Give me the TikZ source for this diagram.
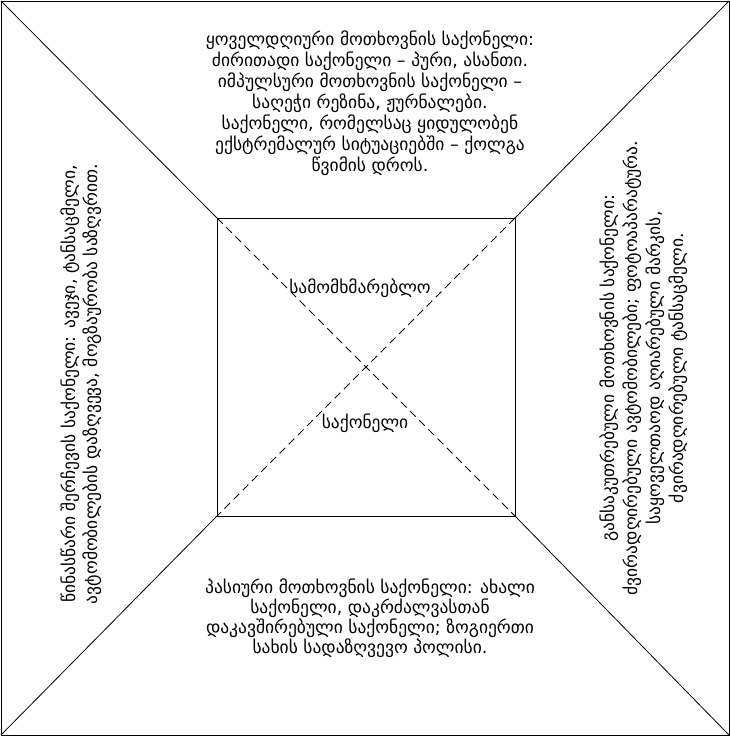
\documentclass[tikz,border=0pt]{standalone}
\usepackage{fontspec}
\setmainfont{DejaVu Sans}
\begin{document}
\begin{tikzpicture}[x=1pt,y=-1pt,line width=0.8pt,
  txt/.style={align=center,inner sep=0pt,font=\fontsize{17.5}{21}\selectfont},
  sidetxt/.style={txt,rotate=90},
  dashline/.style={dash pattern=on 8pt off 5pt}]
\useasboundingbox (0,0) rectangle (730,736);
\coordinate (O1) at (1,1);
\coordinate (O2) at (729,1);
\coordinate (O3) at (729,735);
\coordinate (O4) at (1,735);
\coordinate (I1) at (217,218);
\coordinate (I2) at (515,218);
\coordinate (I3) at (515,516);
\coordinate (I4) at (217,516);
\draw (O1) rectangle (O3);
\draw (I1) rectangle (I3);
\draw (O1) -- (I1);
\draw (O2) -- (I2);
\draw (O3) -- (I3);
\draw (O4) -- (I4);
\draw[dashline] (I1) -- (I3);
\draw[dashline] (I2) -- (I4);
\node[txt] (top) at (370,103) {ყოველდღიური მოთხოვნის საქონელი:\\
ძირითადი საქონელი – პური, ასანთი.\\
იმპულსური მოთხოვნის საქონელი –\\
საღეჭი რეზინა, ჟურნალები.\\
საქონელი, რომელსაც ყიდულობენ\\
ექსტრემალურ სიტუაციებში – ქოლგა\\
წვიმის დროს.};
\node[txt,font=\fontsize{17.5}{20}\selectfont] (bottom) at (370,618) {პასიური მოთხოვნის საქონელი: ახალი\\
საქონელი, დაკრძალვასთან\\
დაკავშირებული საქონელი; ზოგიერთი\\
სახის სადაზღვევო პოლისი.};
\node[sidetxt,font=\fontsize{17.5}{22}\selectfont] (left) at (81,384) {წინასწარი შერჩევის საქონელი: ავეჯი, ტანსაცმელი,\\
ავტომობილების დაზღვევა, მოგზაურობა საზღვრით.};
\node[sidetxt,font=\fontsize{17.5}{23}\selectfont] (right) at (644,368) {განსაკუთრებული მოთხოვნის საქონელი:\\
ძვირადღირებული ავტომობილები; ფოტოაპარატურა.\\
საყოველთაოდ აღიარებული მარკის,\\
ძვირადღირებული ტანსაცმელი.};
\node[txt] (c1) at (360,288) {სამომხმარებლო};
\node[txt] (c2) at (365,423) {საქონელი};
\end{tikzpicture}
\end{document}
